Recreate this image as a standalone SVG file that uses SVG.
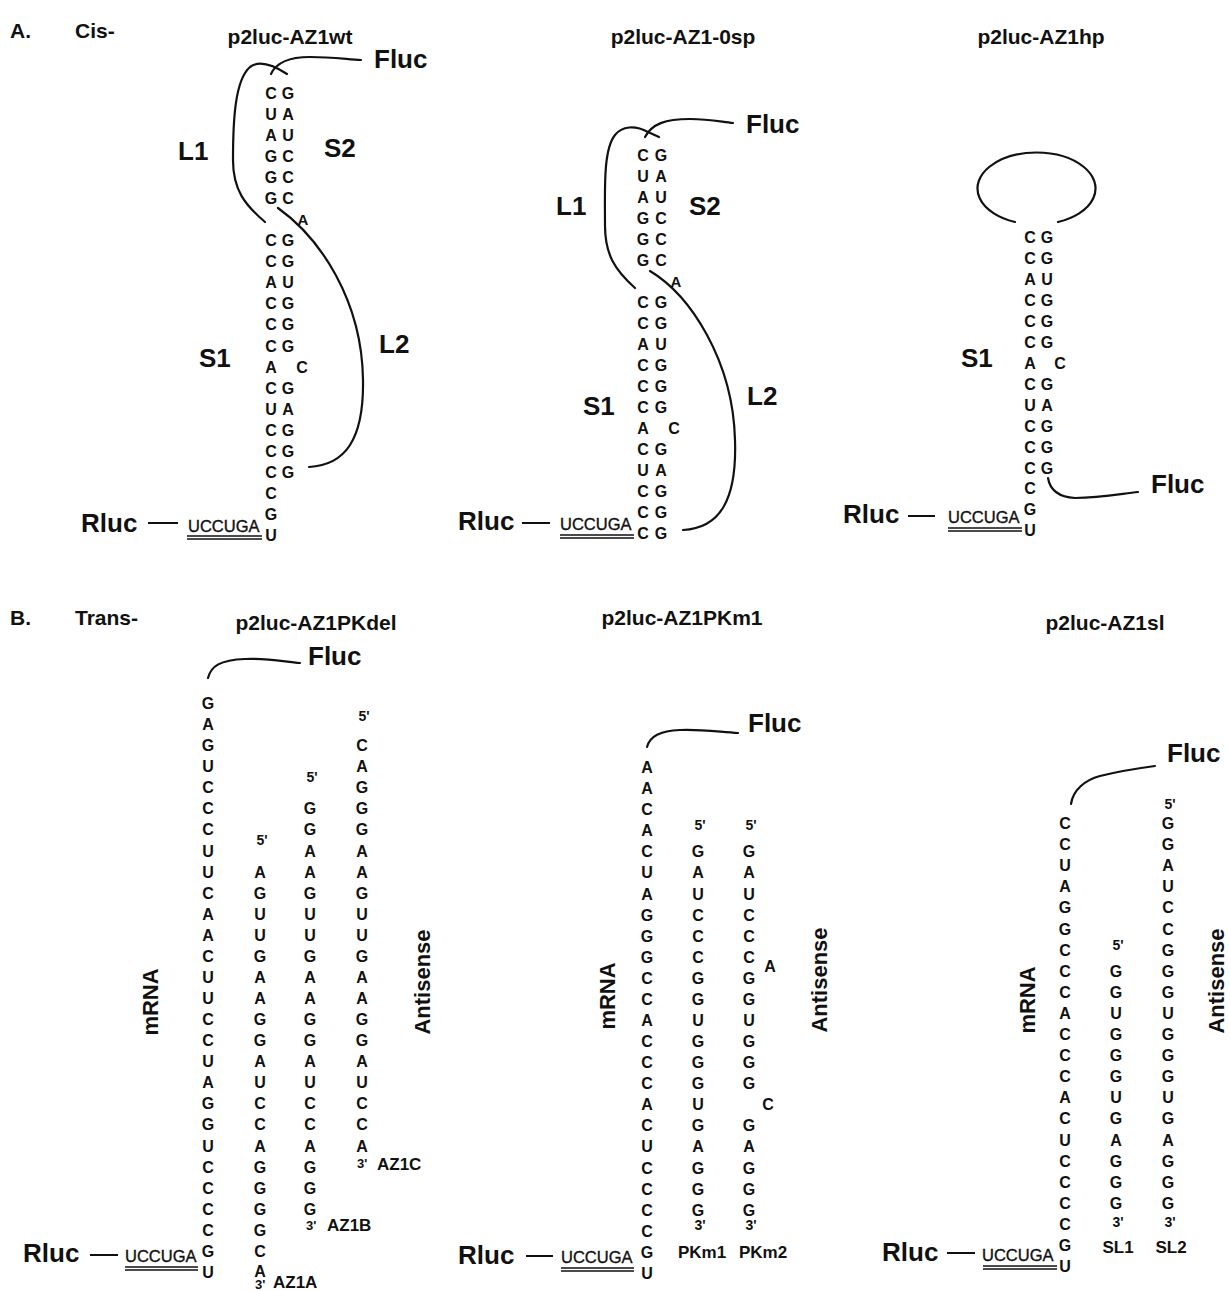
<svg xmlns="http://www.w3.org/2000/svg" width="1230" height="1291" viewBox="0 0 1230 1291">
<style>
text{font-family:"Liberation Sans",Arial,sans-serif;font-weight:bold;fill:#111}
.nt{font-size:16px;text-anchor:middle}
.bl{font-size:15px;text-anchor:middle}
.lab{font-size:26px}
.hd{font-size:21px}
.ttl{font-size:21px;text-anchor:middle}
.sm{font-size:14px;text-anchor:middle}
.sms{font-size:13px}
.nm{font-size:17px}
.nmc{font-size:17px;text-anchor:middle}
.rot{font-size:22px;text-anchor:middle}
.seq{font-size:16.5px;font-weight:normal;stroke:#111;stroke-width:0.35}
.ln{fill:none;stroke:#111;stroke-width:2.2;stroke-linecap:round}
.ul{fill:none;stroke:#111;stroke-width:1.3}
.dash{stroke:#111;stroke-width:2}
</style>
<rect width="1230" height="1291" fill="#fff"/>

<g id="headers">
<text class="hd" x="10" y="38">A.</text>
<text class="hd" x="75" y="38">Cis-</text>
<text class="ttl" x="290" y="44">p2luc-AZ1wt</text>
<text class="ttl" x="683" y="44">p2luc-AZ1-0sp</text>
<text class="ttl" x="1041" y="44">p2luc-AZ1hp</text>
<text class="hd" x="10" y="625">B.</text>
<text class="hd" x="75" y="625">Trans-</text>
<text class="ttl" x="316" y="630">p2luc-AZ1PKdel</text>
<text class="ttl" x="682" y="625">p2luc-AZ1PKm1</text>
<text class="ttl" x="1105" y="630">p2luc-AZ1sl</text>
</g>

<g id="connectors">
<path class="ln" d="M265,222 C245,205 233,190 233,160 C233,120 235,80 250,67 C258,61 270,63 287,74"/>
<path class="ln" d="M271,74 C276,63 290,57 310,57 C330,57 345,59 361,60"/>
<path class="ln" d="M278,208 C320,238 362,300 363,380 C364,440 345,465 309,467"/>
<path class="ln" d="M635,288 C615,270 605,255 605,225 C605,190 603,150 615,135 C622,126 635,125 648,132 L659,137"/>
<path class="ln" d="M645,137 C652,124 665,119 690,119 C710,119 722,122 733,123"/>
<path class="ln" d="M650,271 C690,295 733,360 735,440 C737,500 720,528 683,530"/>
<path class="ln" d="M1015,222 A59 36 0 1 1 1058,222"/>
<path class="ln" d="M1048,478 C1050,490 1058,497 1075,498 C1100,498 1120,494 1138,492"/>
<path class="ln" d="M208,678 C211,666 220,660 245,659 C270,658 285,662 300,663"/>
<path class="ln" d="M647,747 C650,736 660,731 680,730 C700,729 720,732 738,733"/>
<path class="ln" d="M1071,804 C1073,790 1085,780 1100,776 C1120,771 1140,768 1155,766"/>
<line class="dash" x1="148" y1="523" x2="178" y2="523"/>
<line class="dash" x1="522" y1="523" x2="550" y2="523"/>
<line class="dash" x1="908" y1="516" x2="935" y2="516"/>
<line class="dash" x1="90" y1="1255" x2="118" y2="1255"/>
<line class="dash" x1="526" y1="1256" x2="553" y2="1256"/>
<line class="dash" x1="947" y1="1253" x2="975" y2="1253"/>
</g>

<g id="A1">
<text class="lab" x="374" y="68">Fluc</text>
<text class="lab" x="178" y="160">L1</text>
<text class="lab" x="324" y="157">S2</text>
<text class="lab" x="199" y="367">S1</text>
<text class="lab" x="379" y="353">L2</text>
<text class="lab" x="81" y="532">Rluc</text>
<text class="seq" x="188" y="532">UCCUGA</text>
<path class="ul" d="M187,536 H262 M187,539 H262"/>
<text class="nt"><tspan x="271" y="99">C</tspan><tspan x="271" y="120">U</tspan><tspan x="271" y="141">A</tspan><tspan x="271" y="162">G</tspan><tspan x="271" y="183">G</tspan><tspan x="271" y="204">G</tspan></text>
<text class="nt"><tspan x="288" y="99">G</tspan><tspan x="288" y="120">A</tspan><tspan x="288" y="141">U</tspan><tspan x="288" y="162">C</tspan><tspan x="288" y="183">C</tspan><tspan x="288" y="204">C</tspan></text>
<text class="bl" x="303" y="225">A</text>
<text class="nt"><tspan x="271" y="246">C</tspan><tspan x="271" y="267">C</tspan><tspan x="271" y="288">A</tspan><tspan x="271" y="309">C</tspan><tspan x="271" y="330">C</tspan><tspan x="271" y="351.5">C</tspan><tspan x="271" y="372.6">A</tspan><tspan x="271" y="393.7">C</tspan><tspan x="271" y="414.8">U</tspan><tspan x="271" y="436">C</tspan><tspan x="271" y="457">C</tspan><tspan x="271" y="478">C</tspan><tspan x="271" y="499">C</tspan><tspan x="271" y="520">G</tspan><tspan x="271" y="541">U</tspan></text>
<text class="nt"><tspan x="288" y="246">G</tspan><tspan x="288" y="267">G</tspan><tspan x="288" y="288">U</tspan><tspan x="288" y="309">G</tspan><tspan x="288" y="330">G</tspan><tspan x="288" y="351.5">G</tspan><tspan x="302" y="372.6">C</tspan><tspan x="288" y="393.7">G</tspan><tspan x="288" y="414.8">A</tspan><tspan x="288" y="436">G</tspan><tspan x="288" y="457">G</tspan><tspan x="288" y="478">G</tspan></text>
</g>

<g id="A2">
<text class="lab" x="746" y="133">Fluc</text>
<text class="lab" x="556" y="215">L1</text>
<text class="lab" x="689" y="215">S2</text>
<text class="lab" x="583" y="415">S1</text>
<text class="lab" x="747" y="405">L2</text>
<text class="lab" x="458" y="530">Rluc</text>
<text class="seq" x="560" y="530">UCCUGA</text>
<path class="ul" d="M560,535 H634 M560,538 H634"/>
<text class="nt"><tspan x="643" y="161">C</tspan><tspan x="643" y="182">U</tspan><tspan x="643" y="203">A</tspan><tspan x="643" y="224">G</tspan><tspan x="643" y="245">G</tspan><tspan x="643" y="266">G</tspan></text>
<text class="nt"><tspan x="661" y="161">G</tspan><tspan x="661" y="182">A</tspan><tspan x="661" y="203">U</tspan><tspan x="661" y="224">C</tspan><tspan x="661" y="245">C</tspan><tspan x="661" y="266">C</tspan></text>
<text class="bl" x="676" y="287">A</text>
<text class="nt"><tspan x="643" y="308">C</tspan><tspan x="643" y="329">C</tspan><tspan x="643" y="350">A</tspan><tspan x="643" y="371">C</tspan><tspan x="643" y="392">C</tspan><tspan x="643" y="413">C</tspan><tspan x="643" y="434">A</tspan><tspan x="643" y="455">C</tspan><tspan x="643" y="476">U</tspan><tspan x="643" y="497">C</tspan><tspan x="643" y="518">C</tspan><tspan x="643" y="539">C</tspan></text>
<text class="nt"><tspan x="661" y="308">G</tspan><tspan x="661" y="329">G</tspan><tspan x="661" y="350">U</tspan><tspan x="661" y="371">G</tspan><tspan x="661" y="392">G</tspan><tspan x="661" y="413">G</tspan><tspan x="674" y="434">C</tspan><tspan x="661" y="455">G</tspan><tspan x="661" y="476">A</tspan><tspan x="661" y="497">G</tspan><tspan x="661" y="518">G</tspan><tspan x="661" y="539">G</tspan></text>
</g>

<g id="A3">
<text class="lab" x="961" y="367">S1</text>
<text class="lab" x="1151" y="493">Fluc</text>
<text class="lab" x="843" y="523">Rluc</text>
<text class="seq" x="948" y="523">UCCUGA</text>
<path class="ul" d="M948,528 H1022 M948,531 H1022"/>
<text class="nt"><tspan x="1030" y="243">C</tspan><tspan x="1030" y="264">C</tspan><tspan x="1030" y="285">A</tspan><tspan x="1030" y="306">C</tspan><tspan x="1030" y="327">C</tspan><tspan x="1030" y="348">C</tspan><tspan x="1030" y="369">A</tspan><tspan x="1030" y="390">C</tspan><tspan x="1030" y="411">U</tspan><tspan x="1030" y="432">C</tspan><tspan x="1030" y="452.5">C</tspan><tspan x="1030" y="473.5">C</tspan><tspan x="1030" y="494.4">C</tspan><tspan x="1030" y="515.4">G</tspan><tspan x="1030" y="536.3">U</tspan></text>
<text class="nt"><tspan x="1047" y="243">G</tspan><tspan x="1047" y="264">G</tspan><tspan x="1047" y="285">U</tspan><tspan x="1047" y="306">G</tspan><tspan x="1047" y="327">G</tspan><tspan x="1047" y="348">G</tspan><tspan x="1060" y="369">C</tspan><tspan x="1047" y="390">G</tspan><tspan x="1047" y="411">A</tspan><tspan x="1047" y="432">G</tspan><tspan x="1047" y="452.5">G</tspan><tspan x="1047" y="473.5">G</tspan></text>
</g>

<g id="B1">
<text class="lab" x="308" y="665">Fluc</text>
<text class="lab" x="23" y="1262">Rluc</text>
<text class="seq" x="125" y="1262">UCCUGA</text>
<path class="ul" d="M125,1267 H198 M125,1270 H198"/>
<text class="rot" transform="translate(158,1002) rotate(-90)">mRNA</text>
<text class="rot" transform="translate(430,982) rotate(-90)">Antisense</text>
<text class="nt"><tspan x="208" y="709">G</tspan><tspan x="208" y="730.1">A</tspan><tspan x="208" y="751.1">G</tspan><tspan x="208" y="772.2">U</tspan><tspan x="208" y="793.3">C</tspan><tspan x="208" y="814.4">C</tspan><tspan x="208" y="835.4">C</tspan><tspan x="208" y="856.5">U</tspan><tspan x="208" y="877.6">U</tspan><tspan x="208" y="898.6">C</tspan><tspan x="208" y="919.7">A</tspan><tspan x="208" y="940.8">A</tspan><tspan x="208" y="961.8">C</tspan><tspan x="208" y="982.9">U</tspan><tspan x="208" y="1004">U</tspan><tspan x="208" y="1025.1">C</tspan><tspan x="208" y="1046.1">C</tspan><tspan x="208" y="1067.2">U</tspan><tspan x="208" y="1088.3">A</tspan><tspan x="208" y="1109.3">G</tspan><tspan x="208" y="1130.4">G</tspan><tspan x="208" y="1151.5">U</tspan><tspan x="208" y="1172.5">C</tspan><tspan x="208" y="1193.6">C</tspan><tspan x="208" y="1214.7">C</tspan><tspan x="208" y="1235.8">C</tspan><tspan x="208" y="1256.8">G</tspan><tspan x="208" y="1277.9">U</tspan></text>
<text class="sm" x="262" y="845">5'</text>
<text class="nt"><tspan x="260" y="877.6">A</tspan><tspan x="260" y="898.6">G</tspan><tspan x="260" y="919.7">U</tspan><tspan x="260" y="940.8">U</tspan><tspan x="260" y="961.8">G</tspan><tspan x="260" y="982.9">A</tspan><tspan x="260" y="1004">A</tspan><tspan x="260" y="1025.1">G</tspan><tspan x="260" y="1046.1">G</tspan><tspan x="260" y="1067.2">A</tspan><tspan x="260" y="1088.3">U</tspan><tspan x="260" y="1109.3">C</tspan><tspan x="260" y="1130.4">C</tspan><tspan x="260" y="1151.5">A</tspan><tspan x="260" y="1172.5">G</tspan><tspan x="260" y="1193.6">G</tspan><tspan x="260" y="1214.7">G</tspan><tspan x="260" y="1235.8">G</tspan><tspan x="260" y="1256.8">C</tspan><tspan x="260" y="1276.5">A</tspan></text>
<text class="sms" x="255" y="1289">3'</text>
<text class="nm" x="273" y="1288">AZ1A</text>
<text class="sm" x="312" y="782">5'</text>
<text class="nt"><tspan x="310" y="814.4">G</tspan><tspan x="310" y="835.4">G</tspan><tspan x="310" y="856.5">A</tspan><tspan x="310" y="877.6">A</tspan><tspan x="310" y="898.6">G</tspan><tspan x="310" y="919.7">U</tspan><tspan x="310" y="940.8">U</tspan><tspan x="310" y="961.8">G</tspan><tspan x="310" y="982.9">A</tspan><tspan x="310" y="1004">A</tspan><tspan x="310" y="1025.1">G</tspan><tspan x="310" y="1046.1">G</tspan><tspan x="310" y="1067.2">A</tspan><tspan x="310" y="1088.3">U</tspan><tspan x="310" y="1109.3">C</tspan><tspan x="310" y="1130.4">C</tspan><tspan x="310" y="1151.5">A</tspan><tspan x="310" y="1172.5">G</tspan><tspan x="310" y="1193.6">G</tspan><tspan x="310" y="1214.7">G</tspan></text>
<text class="sms" x="306" y="1230">3'</text>
<text class="nm" x="327" y="1231">AZ1B</text>
<text class="sm" x="364" y="721">5'</text>
<text class="nt"><tspan x="362" y="751.1">C</tspan><tspan x="362" y="772.2">A</tspan><tspan x="362" y="793.3">G</tspan><tspan x="362" y="814.4">G</tspan><tspan x="362" y="835.4">G</tspan><tspan x="362" y="856.5">A</tspan><tspan x="362" y="877.6">A</tspan><tspan x="362" y="898.6">G</tspan><tspan x="362" y="919.7">U</tspan><tspan x="362" y="940.8">U</tspan><tspan x="362" y="961.8">G</tspan><tspan x="362" y="982.9">A</tspan><tspan x="362" y="1004">A</tspan><tspan x="362" y="1025.1">G</tspan><tspan x="362" y="1046.1">G</tspan><tspan x="362" y="1067.2">A</tspan><tspan x="362" y="1088.3">U</tspan><tspan x="362" y="1109.3">C</tspan><tspan x="362" y="1130.4">C</tspan><tspan x="362" y="1151.5">A</tspan></text>
<text class="sms" x="357" y="1168">3'</text>
<text class="nm" x="377" y="1170">AZ1C</text>
</g>

<g id="B2">
<text class="lab" x="748" y="732">Fluc</text>
<text class="lab" x="458" y="1264">Rluc</text>
<text class="seq" x="561" y="1263">UCCUGA</text>
<path class="ul" d="M561,1268 H634 M561,1271 H634"/>
<text class="rot" transform="translate(615,996) rotate(-90)">mRNA</text>
<text class="rot" transform="translate(827,980) rotate(-90)">Antisense</text>
<text class="nt"><tspan x="647" y="773">A</tspan><tspan x="647" y="794.1">A</tspan><tspan x="647" y="815.2">C</tspan><tspan x="647" y="836.2">A</tspan><tspan x="647" y="857.3">C</tspan><tspan x="647" y="878.4">U</tspan><tspan x="647" y="899.5">A</tspan><tspan x="647" y="920.6">G</tspan><tspan x="647" y="941.6">G</tspan><tspan x="647" y="962.7">G</tspan><tspan x="647" y="983.8">C</tspan><tspan x="647" y="1004.9">C</tspan><tspan x="647" y="1026">A</tspan><tspan x="647" y="1047">C</tspan><tspan x="647" y="1068.1">C</tspan><tspan x="647" y="1089.2">C</tspan><tspan x="647" y="1110.3">A</tspan><tspan x="647" y="1131.4">C</tspan><tspan x="647" y="1152.4">U</tspan><tspan x="647" y="1173.5">C</tspan><tspan x="647" y="1194.6">C</tspan><tspan x="647" y="1215.7">C</tspan><tspan x="647" y="1236.8">C</tspan><tspan x="647" y="1257.8">G</tspan><tspan x="647" y="1278.9">U</tspan></text>
<text class="sm" x="700" y="830">5'</text>
<text class="nt"><tspan x="698" y="857.3">G</tspan><tspan x="698" y="878.4">A</tspan><tspan x="698" y="899.5">U</tspan><tspan x="698" y="920.6">C</tspan><tspan x="698" y="941.6">C</tspan><tspan x="698" y="962.7">C</tspan><tspan x="698" y="983.8">G</tspan><tspan x="698" y="1004.9">G</tspan><tspan x="698" y="1026">U</tspan><tspan x="698" y="1047">G</tspan><tspan x="698" y="1068.1">G</tspan><tspan x="698" y="1089.2">G</tspan><tspan x="698" y="1110.3">U</tspan><tspan x="698" y="1131.4">G</tspan><tspan x="698" y="1152.4">A</tspan><tspan x="698" y="1173.5">G</tspan><tspan x="698" y="1194.6">G</tspan><tspan x="698" y="1215.7">G</tspan></text>
<text class="sm" x="700" y="1230">3'</text>
<text class="nmc" x="702" y="1258">PKm1</text>
<text class="sm" x="751" y="830">5'</text>
<text class="nt"><tspan x="749" y="857.3">G</tspan><tspan x="749" y="878.4">A</tspan><tspan x="749" y="899.5">U</tspan><tspan x="749" y="920.6">C</tspan><tspan x="749" y="941.6">C</tspan><tspan x="749" y="962.7">C</tspan><tspan x="770" y="972">A</tspan><tspan x="749" y="983.8">G</tspan><tspan x="749" y="1004.9">G</tspan><tspan x="749" y="1026">U</tspan><tspan x="749" y="1047">G</tspan><tspan x="749" y="1068.1">G</tspan><tspan x="749" y="1089.2">G</tspan><tspan x="768" y="1110.3">C</tspan><tspan x="749" y="1131.4">G</tspan><tspan x="749" y="1152.4">A</tspan><tspan x="749" y="1173.5">G</tspan><tspan x="749" y="1194.6">G</tspan><tspan x="749" y="1215.7">G</tspan></text>
<text class="sm" x="751" y="1230">3'</text>
<text class="nmc" x="763" y="1258">PKm2</text>
</g>

<g id="B3">
<text class="lab" x="1167" y="762">Fluc</text>
<text class="lab" x="882" y="1261">Rluc</text>
<text class="seq" x="982" y="1261">UCCUGA</text>
<path class="ul" d="M983,1266 H1057 M983,1269 H1057"/>
<text class="rot" transform="translate(1035,1000) rotate(-90)">mRNA</text>
<text class="rot" transform="translate(1224,981) rotate(-90)">Antisense</text>
<text class="nt"><tspan x="1065" y="829">C</tspan><tspan x="1065" y="850.1">C</tspan><tspan x="1065" y="871.2">U</tspan><tspan x="1065" y="892.3">A</tspan><tspan x="1065" y="913.4">G</tspan><tspan x="1065" y="934.5">G</tspan><tspan x="1065" y="955.6">C</tspan><tspan x="1065" y="976.7">C</tspan><tspan x="1065" y="997.8">C</tspan><tspan x="1065" y="1018.9">A</tspan><tspan x="1065" y="1040">C</tspan><tspan x="1065" y="1061.1">C</tspan><tspan x="1065" y="1082.2">C</tspan><tspan x="1065" y="1103.3">A</tspan><tspan x="1065" y="1124.4">C</tspan><tspan x="1065" y="1145.5">U</tspan><tspan x="1065" y="1166.6">C</tspan><tspan x="1065" y="1187.7">C</tspan><tspan x="1065" y="1208.8">C</tspan><tspan x="1065" y="1229.9">C</tspan><tspan x="1065" y="1251">G</tspan><tspan x="1065" y="1272.1">U</tspan></text>
<text class="sm" x="1118" y="950">5'</text>
<text class="nt"><tspan x="1116" y="976.7">G</tspan><tspan x="1116" y="997.8">G</tspan><tspan x="1116" y="1018.9">U</tspan><tspan x="1116" y="1040">G</tspan><tspan x="1116" y="1061.1">G</tspan><tspan x="1116" y="1082.2">G</tspan><tspan x="1116" y="1103.3">U</tspan><tspan x="1116" y="1124.4">G</tspan><tspan x="1116" y="1145.5">A</tspan><tspan x="1116" y="1166.6">G</tspan><tspan x="1116" y="1187.7">G</tspan><tspan x="1116" y="1208.8">G</tspan></text>
<text class="sm" x="1118" y="1227">3'</text>
<text class="nmc" x="1118" y="1253">SL1</text>
<text class="sm" x="1170" y="809">5'</text>
<text class="nt"><tspan x="1168" y="829">G</tspan><tspan x="1168" y="850.1">G</tspan><tspan x="1168" y="871.2">A</tspan><tspan x="1168" y="892.3">U</tspan><tspan x="1168" y="913.4">C</tspan><tspan x="1168" y="934.5">C</tspan><tspan x="1168" y="955.6">G</tspan><tspan x="1168" y="976.7">G</tspan><tspan x="1168" y="997.8">G</tspan><tspan x="1168" y="1018.9">U</tspan><tspan x="1168" y="1040">G</tspan><tspan x="1168" y="1061.1">G</tspan><tspan x="1168" y="1082.2">G</tspan><tspan x="1168" y="1103.3">U</tspan><tspan x="1168" y="1124.4">G</tspan><tspan x="1168" y="1145.5">A</tspan><tspan x="1168" y="1166.6">G</tspan><tspan x="1168" y="1187.7">G</tspan><tspan x="1168" y="1208.8">G</tspan></text>
<text class="sm" x="1170" y="1227">3'</text>
<text class="nmc" x="1171" y="1253">SL2</text>
</g>
</svg>
